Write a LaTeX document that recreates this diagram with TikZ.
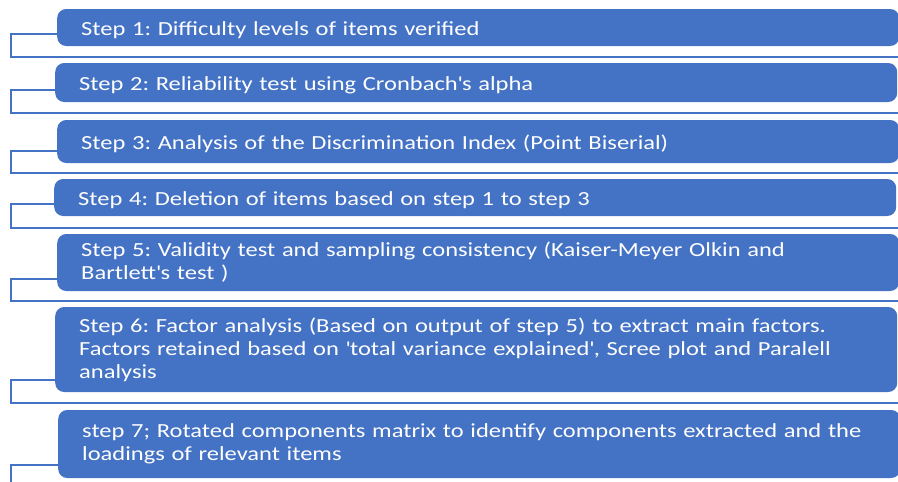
\documentclass[tikz,border=0pt]{standalone}
\usepackage{fontspec}
\setmainfont{Carlito}[FakeStretch=1.225]
\usepackage{xcolor}
\usetikzlibrary{positioning, calc}
\definecolor{stepblue}{HTML}{4472C4}
\frenchspacing

\begin{document}
\begin{tikzpicture}[
  x=1pt, y=-1pt,
  stepbox/.style={fill=stepblue, rounded corners=9pt, anchor=west,
    text=white, text width=794pt, inner xsep=24pt, inner ysep=0pt,
    align=left, font=\fontsize{20}{23}\selectfont},
  oneline/.style={text height=16pt, text depth=1pt},
  bracket/.style={draw=stepblue, line width=2pt},
]
\useasboundingbox (0,0) rectangle (898,482);

% ===== STEP BOXES =====
\node[stepbox, oneline, minimum height=37pt] (s1) at (57, 27.5)
  {Step 1: Difficulty levels of items verified};
\node[stepbox, oneline, minimum height=39pt] (s2) at (55, 82.5)
  {Step 2: Reliability test using Cronbach\textquotesingle s alpha};
\node[stepbox, oneline, minimum height=43pt] (s3) at (57, 141.5)
  {Step 3: Analysis of the Discrimination Index (Point Biserial)};
\node[stepbox, oneline, minimum height=37pt] (s4) at (54, 197.5)
  {Step 4: Deletion of items based on step 1 to step 3};
\node[stepbox, minimum height=57pt] (s5) at (57, 262.5)
  {Step 5: Validity test and sampling consistency (Kaiser-Meyer Olkin and\\
  Bartlett\textquotesingle s test )};
\node[stepbox, minimum height=85pt] (s6) at (55, 349.5)
  {Step 6: Factor analysis (Based on output of step 5) to extract main factors.\\
  Factors retained based on \textquotesingle total variance explained\textquotesingle, Scree plot and Paralell\\
  analysis};
\node[stepbox, minimum height=68pt] (s7) at (58, 444)
  {step 7; Rotated components matrix to identify components extracted and the\\
  loadings of relevant items};

% ===== BRACKET ENDS =====
\coordinate (c1) at (11, 57);  \coordinate (e1) at (898, 57);
\coordinate (c2) at (11, 113); \coordinate (e2) at (898, 113);
\coordinate (c3) at (11, 173); \coordinate (e3) at (898, 173);
\coordinate (c4) at (11, 228); \coordinate (e4) at (898, 228);
\coordinate (c5) at (11, 301); \coordinate (e5) at (898, 301);
\coordinate (c6) at (11, 403); \coordinate (e6) at (898, 403);
\coordinate (c7) at (11, 492); \coordinate (e7) at (898, 492);

% Brackets
\draw[bracket] ([yshift=12pt]s1.south west) -| (c1) -- (e1);
\draw[bracket] ([yshift=12pt]s2.south west) -| (c2) -- (e2);
\draw[bracket] ([yshift=12pt]s3.south west) -| (c3) -- (e3);
\draw[bracket] ([yshift=12pt]s4.south west) -| (c4) -- (e4);
\draw[bracket] ([yshift=12pt]s5.south west) -| (c5) -- (e5);
\draw[bracket] ([yshift=12pt]s6.south west) -| (c6) -- (e6);
\draw[bracket] ([yshift=13pt]s7.south west) -| (c7) -- (e7);

\end{tikzpicture}
\end{document}
